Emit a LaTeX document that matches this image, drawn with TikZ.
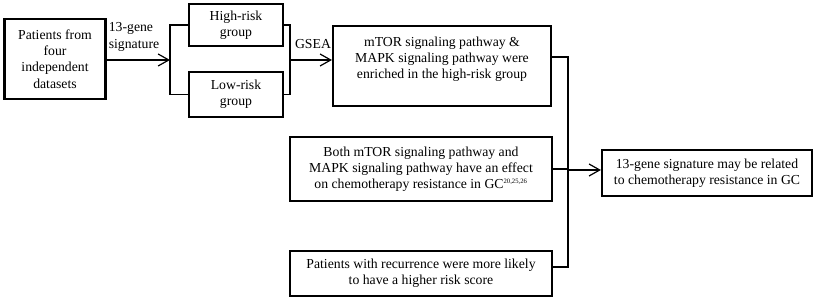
\documentclass[tikz,border=0pt]{standalone}
\usepackage{fontspec}
\setmainfont{Liberation Serif}
\usetikzlibrary{arrows.meta}

\begin{document}
\begin{tikzpicture}[x=0.75pt, y=-0.75pt, >={Straight Barb[length=8pt,width=9pt]},
  box/.style={draw, line width=1.6pt, align=center, inner sep=2pt,
    font=\fontsize{10.3}{12.2}\selectfont},
  link/.style={line width=0.9pt},
  lbl/.style={font=\fontsize{10.3}{12.2}\selectfont, inner sep=0pt}]
  \useasboundingbox (0,0) rectangle (824,302);
  % boxes
  \node[box, minimum width=101*0.75pt, minimum height=80*0.75pt] (src) at (55,59)
    {Patients from\\four\\independent\\datasets};
  \node[box, minimum width=94*0.75pt, minimum height=42*0.75pt] (high) at (236,25)
    {High-risk\\group};
  \node[box, minimum width=94*0.75pt, minimum height=45*0.75pt] (low) at (236,94.5)
    {Low-risk\\group};
  \node[box, minimum width=218*0.75pt, minimum height=80*0.75pt] (mtor) at (442,66)
    {mTOR signaling pathway \&\\MAPK signaling pathway were\\enriched in the high-risk group\\~};
  \node[box, minimum width=262*0.75pt, minimum height=64*0.75pt] (both) at (421,169)
    {Both mTOR signaling pathway and\\MAPK signaling pathway have an effect\\on chemotherapy resistance in GC\textsuperscript{\tiny 20,25,26}};
  \node[box, minimum width=262*0.75pt, minimum height=45*0.75pt] (recur) at (421,273.5)
    {Patients with recurrence were more likely\\to have a higher risk score};
  \node[box, minimum width=210*0.75pt, minimum height=46*0.75pt] (result) at (707,173)
    {13-gene signature may be related\\to chemotherapy resistance in GC};
  % labels
  \node[lbl, align=left] (siglbl) at (134,37) {13-gene\\signature};
  \node[lbl] (gsealbl) at (313,44) {GSEA};
  % split into risk groups
  \coordinate (split) at (170,60);
  \coordinate (join) at (290,60);
  \draw[link, ->] (src.east |- split) -- (split);
  \draw[link] (high.west) -| (split) |- (low.west);
  \draw[link] (high.east) -| (join) |- (low.east);
  \draw[link, ->] (join) -- (join -| mtor.west);
  % collect evidence
  \coordinate (bustop) at (568,57);
  \coordinate (bus) at (568,170);
  \coordinate (busbot) at (568,267);
  \draw[link] (mtor.east |- bustop) -- (bustop) -- (busbot) -- (recur.east |- busbot);
  \draw[link] (both.east) -- (both.east -| bus);
  \draw[link, ->] (bus) -- (bus -| result.west);
\end{tikzpicture}
\end{document}
